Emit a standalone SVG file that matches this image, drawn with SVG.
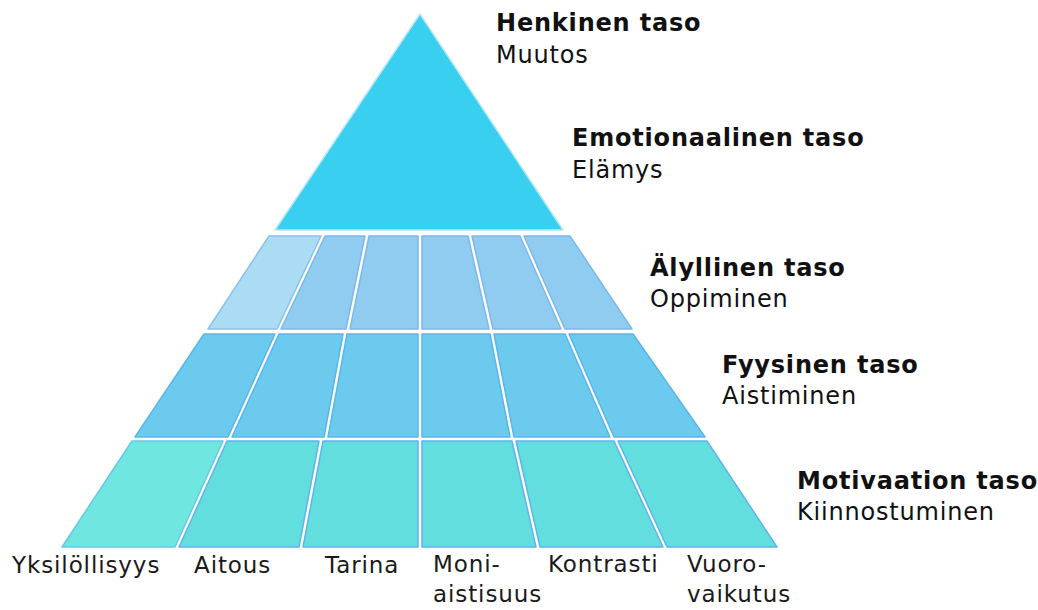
<svg xmlns="http://www.w3.org/2000/svg" width="1038" height="610" viewBox="0 0 1038 610">
  <style>
    .apex { fill: #38cff1; stroke: #b9e6f6; stroke-width: 1.5; stroke-linejoin: round; }
    .cell { stroke-width: 1.5; stroke-linejoin: round; }
    .r1 { fill: #90cbf0; stroke: #7cb9ea; }
    .r1a { fill: #acdcf3; stroke: #86c2ec; }
    .r2 { fill: #6ccaee; stroke: #58b6ea; }
    .r3 { fill: #61dedd; stroke: #5fb4ea; }
    .r3a { fill: #6fe6df; stroke: #66c8e8; }
    .lvl { font-family: "DejaVu Sans", Verdana, sans-serif; font-size: 24px; fill: #111; letter-spacing: 0.8px; }
    .lvl .t { font-weight: bold; }
    .foot { font-family: "DejaVu Sans", Verdana, sans-serif; font-size: 23px; fill: #1a1a1a; letter-spacing: 0.9px; }
  </style>

  <rect width="1038" height="610" fill="#ffffff"/>

  <!-- top tier: personal level -->
  <g id="tier-henkinen">
    <polygon class="apex" points="420,14 563,230 275,230"/>
  </g>

  <!-- intellectual tier -->
  <g id="tier-alyllinen">
    <g id="r1c1"><polygon class="cell r1a" points="269,236 321,236 277,329 208,329"/></g>
    <g id="r1c2"><polygon class="cell r1" points="325,236 365,236 346,329 281,329"/></g>
    <g id="r1c3"><polygon class="cell r1" points="369,236 418,236 418,329 350,329"/></g>
    <g id="r1c4"><polygon class="cell r1" points="422,236 468,236 489,329 422,329"/></g>
    <g id="r1c5"><polygon class="cell r1" points="472,236 520,236 561,329 493,329"/></g>
    <g id="r1c6"><polygon class="cell r1" points="524,236 570,236 632,329 565,329"/></g>
  </g>

  <!-- physical tier -->
  <g id="tier-fyysinen">
    <g id="r2c1"><polygon class="cell r2" points="204,334 275,334 228,437 135,437"/></g>
    <g id="r2c2"><polygon class="cell r2" points="279,334 343,334 324,437 232,437"/></g>
    <g id="r2c3"><polygon class="cell r2" points="347,334 418,334 418,437 328,437"/></g>
    <g id="r2c4"><polygon class="cell r2" points="422,334 490,334 510,437 422,437"/></g>
    <g id="r2c5"><polygon class="cell r2" points="494,334 565,334 610,437 514,437"/></g>
    <g id="r2c6"><polygon class="cell r2" points="569,334 633,334 705,437 614,437"/></g>
  </g>

  <!-- motivation tier -->
  <g id="tier-motivaatio">
    <g id="r3c1"><polygon class="cell r3a" points="132,441 223,441 175,547 62,547"/></g>
    <g id="r3c2"><polygon class="cell r3" points="227,441 319,441 299,547 179,547"/></g>
    <g id="r3c3"><polygon class="cell r3" points="323,441 418,441 418,547 303,547"/></g>
    <g id="r3c4"><polygon class="cell r3" points="422,441 512,441 536,547 422,547"/></g>
    <g id="r3c5"><polygon class="cell r3" points="516,441 614,441 663,547 540,547"/></g>
    <g id="r3c6"><polygon class="cell r3" points="618,441 707,441 777,547 667,547"/></g>
  </g>

  <!-- level captions -->
  <g id="label-henkinen" class="lvl">
    <text class="t" x="496" y="31">Henkinen taso</text>
    <text x="496" y="63">Muutos</text>
  </g>
  <g id="label-emotionaalinen" class="lvl">
    <text class="t" x="572" y="146">Emotionaalinen taso</text>
    <text x="572" y="178">Elämys</text>
  </g>
  <g id="label-alyllinen" class="lvl">
    <text class="t" x="650" y="276">Älyllinen taso</text>
    <text x="650" y="307">Oppiminen</text>
  </g>
  <g id="label-fyysinen" class="lvl">
    <text class="t" x="722" y="373">Fyysinen taso</text>
    <text x="722" y="404">Aistiminen</text>
  </g>
  <g id="label-motivaatio" class="lvl">
    <text class="t" x="797" y="489">Motivaation taso</text>
    <text x="797" y="520">Kiinnostuminen</text>
  </g>

  <!-- column captions -->
  <g id="columns" class="foot">
    <text x="12" y="573">Yksilöllisyys</text>
    <text x="194" y="573">Aitous</text>
    <text x="325" y="573">Tarina</text>
    <text x="433" y="572">Moni-</text>
    <text x="433" y="602">aistisuus</text>
    <text x="548" y="572">Kontrasti</text>
    <text x="687" y="572">Vuoro-</text>
    <text x="687" y="602">vaikutus</text>
  </g>
</svg>
